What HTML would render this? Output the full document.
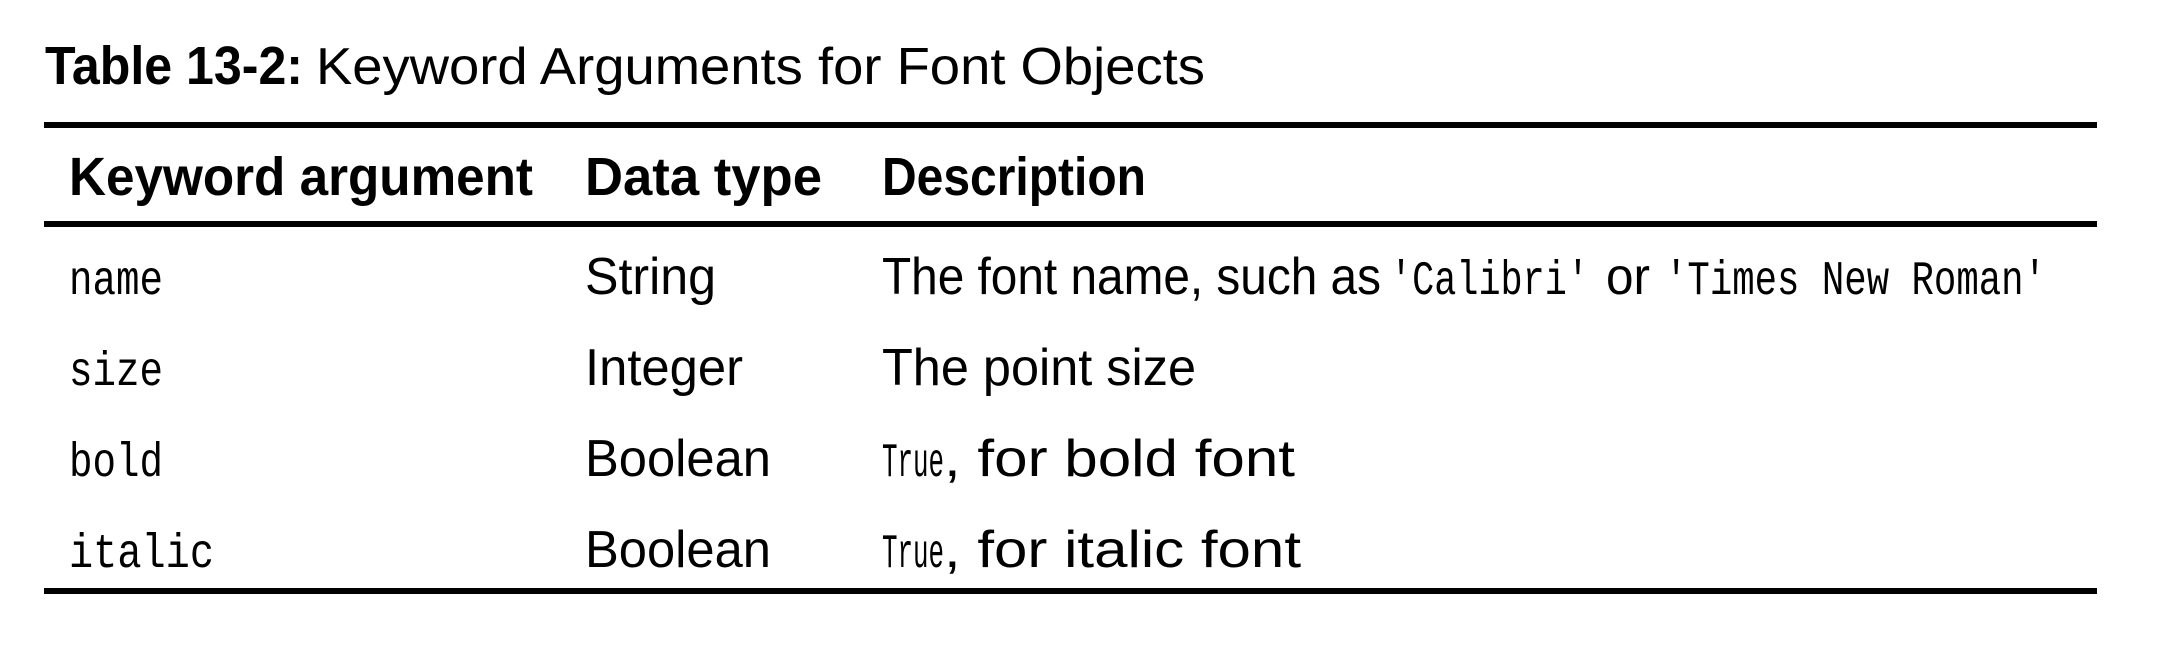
<!DOCTYPE html>
<html><head><meta charset="utf-8"><style>
html,body{margin:0;padding:0;background:#fff;width:2170px;height:656px;overflow:hidden}
.s{font-family:"Liberation Sans",sans-serif;font-size:52px;fill:#000}
.b{font-family:"Liberation Sans",sans-serif;font-size:54px;font-weight:bold;fill:#000}
.m{font-family:"Liberation Mono",monospace;font-size:48px;fill:#000}
</style></head><body>
<svg width="2170" height="656" xmlns="http://www.w3.org/2000/svg">
<text class="b" x="45" y="84" textLength="258" lengthAdjust="spacingAndGlyphs">Table 13-2:</text>
<text class="s" x="316" y="84" textLength="889" lengthAdjust="spacingAndGlyphs">Keyword Arguments for Font Objects</text>
<rect x="44" y="122" width="2053" height="6" fill="#000"/>
<text class="b" x="69" y="195" textLength="464" lengthAdjust="spacingAndGlyphs">Keyword argument</text>
<text class="b" x="585" y="195" textLength="237" lengthAdjust="spacingAndGlyphs">Data type</text>
<text class="b" x="882" y="195" textLength="264" lengthAdjust="spacingAndGlyphs">Description</text>
<rect x="44" y="221" width="2053" height="6" fill="#000"/>

<text class="m" x="69" y="294" textLength="94" lengthAdjust="spacingAndGlyphs">name</text>
<text class="s" x="585" y="294" textLength="131" lengthAdjust="spacingAndGlyphs">String</text>
<text class="s" x="882" y="294" textLength="499" lengthAdjust="spacingAndGlyphs">The font name, such as</text>
<text class="m" x="1390" y="294" textLength="199" lengthAdjust="spacingAndGlyphs">'Calibri'</text>
<text class="s" x="1606" y="294" textLength="44" lengthAdjust="spacingAndGlyphs">or</text>
<text class="m" x="1665" y="294" textLength="381" lengthAdjust="spacingAndGlyphs">'Times New Roman'</text>

<text class="m" x="69" y="385" textLength="94" lengthAdjust="spacingAndGlyphs">size</text>
<text class="s" x="585" y="385" textLength="158" lengthAdjust="spacingAndGlyphs">Integer</text>
<text class="s" x="882" y="385" textLength="314" lengthAdjust="spacingAndGlyphs">The point size</text>

<text class="m" x="69" y="476" textLength="94" lengthAdjust="spacingAndGlyphs">bold</text>
<text class="s" x="585" y="476" textLength="186" lengthAdjust="spacingAndGlyphs">Boolean</text>
<text class="m" x="882" y="476" textLength="62" lengthAdjust="spacingAndGlyphs">True</text>
<text class="s" x="944" y="476" textLength="351" lengthAdjust="spacingAndGlyphs">, for bold font</text>

<text class="m" x="69" y="567" textLength="145" lengthAdjust="spacingAndGlyphs">italic</text>
<text class="s" x="585" y="567" textLength="186" lengthAdjust="spacingAndGlyphs">Boolean</text>
<text class="m" x="882" y="567" textLength="62" lengthAdjust="spacingAndGlyphs">True</text>
<text class="s" x="944" y="567" textLength="357" lengthAdjust="spacingAndGlyphs">, for italic font</text>
<rect x="44" y="588" width="2053" height="6" fill="#000"/>
</svg>
</body></html>
